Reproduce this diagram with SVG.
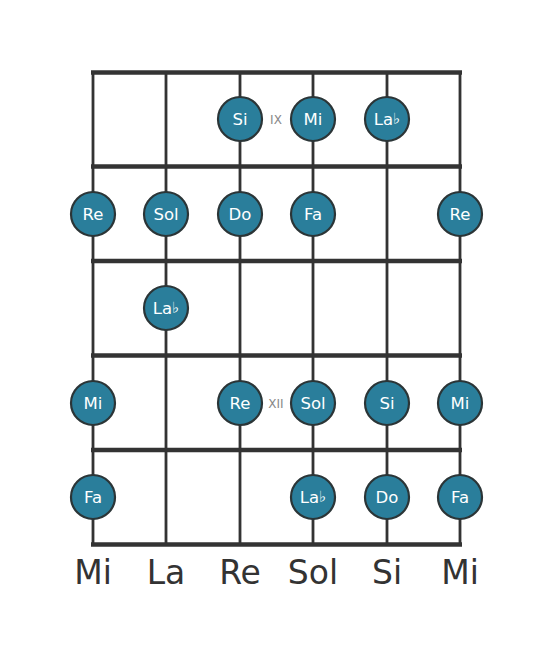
<svg xmlns="http://www.w3.org/2000/svg" width="553" height="656" viewBox="0 0 553 656">
<style>
.fret{stroke:#333;stroke-width:4.5;stroke-linecap:butt}
.str{stroke:#333;stroke-width:2.8}
.note circle{fill:#2a7e9b;stroke:#2b3537;stroke-width:2.2}
.note text{fill:#fff;font-family:"DejaVu Sans",sans-serif;font-size:16.5px;text-anchor:middle;dominant-baseline:central}
.flat{font-size:15px;font-style:italic}
.pos{fill:#888;font-family:"DejaVu Sans",sans-serif;font-size:12px;text-anchor:middle;dominant-baseline:central}
.lbl{fill:#333;font-family:"DejaVu Sans",sans-serif;font-size:33px;text-anchor:middle}
</style>
<rect width="553" height="656" fill="#fff"/>
<g id="connectors">
<line class="str" x1="93" y1="72" x2="93" y2="545"/>
<line class="str" x1="166" y1="72" x2="166" y2="545"/>
<line class="str" x1="240" y1="72" x2="240" y2="545"/>
<line class="str" x1="313" y1="72" x2="313" y2="545"/>
<line class="str" x1="387" y1="72" x2="387" y2="545"/>
<line class="str" x1="460" y1="72" x2="460" y2="545"/>
<line class="fret" x1="91" y1="72.5" x2="462" y2="72.5"/>
<line class="fret" x1="91" y1="166.5" x2="462" y2="166.5"/>
<line class="fret" x1="91" y1="261" x2="462" y2="261"/>
<line class="fret" x1="91" y1="355.5" x2="462" y2="355.5"/>
<line class="fret" x1="91" y1="450" x2="462" y2="450"/>
<line class="fret" x1="91" y1="544.5" x2="462" y2="544.5"/>
</g>
<text class="pos" x="276" y="120">IX</text>
<text class="pos" x="276" y="404">XII</text>
<g id="n1" class="note"><circle cx="240" cy="119" r="22"/><text x="240" y="119">Si</text></g>
<g id="n2" class="note"><circle cx="313" cy="119" r="22"/><text x="313" y="119">Mi</text></g>
<g id="n3" class="note"><circle cx="387" cy="119" r="22"/><text x="387" y="119">La<tspan class="flat">♭</tspan></text></g>
<g id="n4" class="note"><circle cx="93" cy="214" r="22"/><text x="93" y="214">Re</text></g>
<g id="n5" class="note"><circle cx="166" cy="214" r="22"/><text x="166" y="214">Sol</text></g>
<g id="n6" class="note"><circle cx="240" cy="214" r="22"/><text x="240" y="214">Do</text></g>
<g id="n7" class="note"><circle cx="313" cy="214" r="22"/><text x="313" y="214">Fa</text></g>
<g id="n8" class="note"><circle cx="460" cy="214" r="22"/><text x="460" y="214">Re</text></g>
<g id="n9" class="note"><circle cx="166" cy="308" r="22"/><text x="166" y="308">La<tspan class="flat">♭</tspan></text></g>
<g id="n10" class="note"><circle cx="93" cy="403" r="22"/><text x="93" y="403">Mi</text></g>
<g id="n11" class="note"><circle cx="240" cy="403" r="22"/><text x="240" y="403">Re</text></g>
<g id="n12" class="note"><circle cx="313" cy="403" r="22"/><text x="313" y="403">Sol</text></g>
<g id="n13" class="note"><circle cx="387" cy="403" r="22"/><text x="387" y="403">Si</text></g>
<g id="n14" class="note"><circle cx="460" cy="403" r="22"/><text x="460" y="403">Mi</text></g>
<g id="n15" class="note"><circle cx="93" cy="497" r="22"/><text x="93" y="497">Fa</text></g>
<g id="n16" class="note"><circle cx="313" cy="497" r="22"/><text x="313" y="497">La<tspan class="flat">♭</tspan></text></g>
<g id="n17" class="note"><circle cx="387" cy="497" r="22"/><text x="387" y="497">Do</text></g>
<g id="n18" class="note"><circle cx="460" cy="497" r="22"/><text x="460" y="497">Fa</text></g>
<g id="labels">
<text class="lbl" x="93" y="584">Mi</text>
<text class="lbl" x="166" y="584">La</text>
<text class="lbl" x="240" y="584">Re</text>
<text class="lbl" x="313" y="584">Sol</text>
<text class="lbl" x="387" y="584">Si</text>
<text class="lbl" x="460" y="584">Mi</text>
</g>
</svg>
